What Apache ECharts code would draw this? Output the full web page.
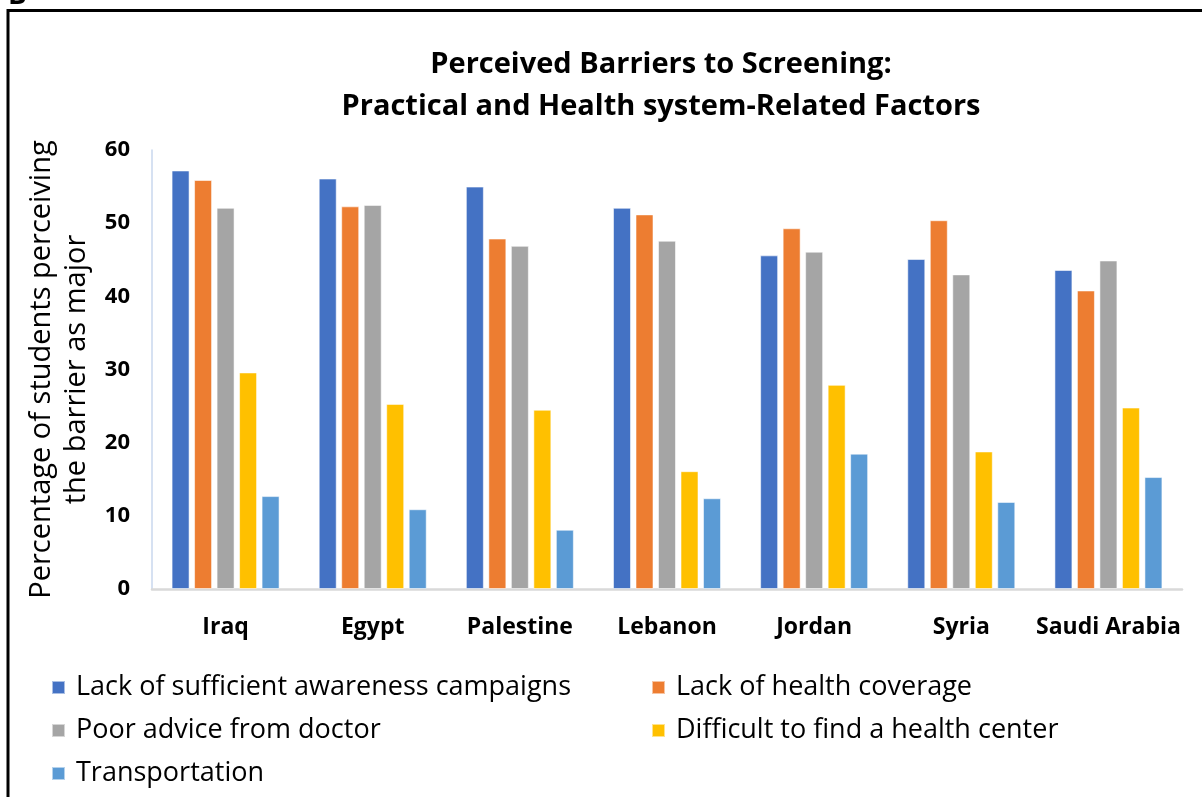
<!DOCTYPE html>
<html>
<head>
<meta charset="utf-8">
<title>Perceived Barriers to Screening</title>
<script src="https://cdn.jsdelivr.net/npm/echarts@6/dist/echarts.min.js"></script>
<style>
  html, body { margin: 0; padding: 0; background: #ffffff; }
  #chart { width: 1202px; height: 797px; }
</style>
</head>
<body>
<div id="chart"></div>
<script>
// Countries on the category axis
const countries = ['Iraq', 'Egypt', 'Palestine', 'Lebanon', 'Jordan', 'Syria', 'Saudi Arabia'];

// Barrier names, one series each
const barrierNames = [
  'Lack of sufficient awareness campaigns',
  'Lack of health coverage',
  'Poor advice from doctor',
  'Difficult to find a health center',
  'Transportation'
];

// Percentage of students perceiving each barrier as major, per country
const awareness      = [57.2, 56.1, 55.0, 52.1, 45.6, 45.1, 43.6];
const coverage       = [55.9, 52.3, 47.9, 51.2, 49.3, 50.4, 40.8];
const doctorAdvice   = [52.1, 52.5, 46.9, 47.6, 46.1, 43.0, 44.9];
const findCenter     = [29.6, 25.3, 24.5, 16.1, 27.9, 18.8, 24.8];
const transportation = [12.7, 10.9,  8.1, 12.4, 18.5, 11.9, 15.3];

// Value axis ticks
const yTicks = [0, 10, 20, 30, 40, 50, 60];

const seriesValues = [awareness, coverage, doctorAdvice, findCenter, transportation];
const seriesColors = ['#4472C4', '#ED7D31', '#A5A5A5', '#FFC000', '#5B9BD5'];

const FONT = '"Open Sans", Lato, sans-serif';

const chart = echarts.init(document.getElementById('chart'), null, { renderer: 'canvas' });

const legendText = {
  fontFamily: FONT,
  fontSize: 27,
  color: '#000000',
  padding: [0, 0, 0, 6]
};

const option = {
  backgroundColor: '#ffffff',
  animation: false,
  color: seriesColors,
  title: {
    text: 'Perceived Barriers to Screening:\nPractical and Health system-Related Factors',
    left: 656,
    top: 39,
    textAlign: 'center',
    textStyle: {
      fontFamily: FONT,
      fontWeight: 'bold',
      fontSize: 29,
      lineHeight: 42,
      color: '#000000'
    }
  },
  legend: [
    {
      data: [barrierNames[0], barrierNames[2], barrierNames[4]],
      orient: 'vertical',
      left: 46,
      top: 669,
      itemWidth: 13,
      itemHeight: 13,
      itemGap: 16,
      icon: 'rect',
      textStyle: legendText
    },
    {
      data: [barrierNames[1], barrierNames[3]],
      orient: 'vertical',
      left: 646,
      top: 669,
      itemWidth: 13,
      itemHeight: 13,
      itemGap: 16,
      icon: 'rect',
      textStyle: legendText
    }
  ],
  grid: {
    left: 152,
    right: 20,
    top: 150,
    bottom: 208,
    outerBoundsMode: 'none'
  },
  xAxis: {
    type: 'category',
    data: countries,
    axisLine: { show: true, lineStyle: { color: '#D9D9D9', width: 2.5 } },
    axisTick: { show: false },
    axisLabel: {
      interval: 0,
      hideOverlap: false,
      fontFamily: FONT,
      fontWeight: 'bold',
      fontSize: 23,
      color: '#000000',
      margin: 27
    }
  },
  yAxis: {
    type: 'value',
    min: yTicks[0],
    max: yTicks[yTicks.length - 1],
    interval: 10,
    name: 'Percentage of students perceiving\nthe barrier as major',
    nameLocation: 'middle',
    nameRotate: 90,
    nameGap: 58,
    nameTextStyle: {
      fontFamily: FONT,
      fontSize: 29,
      lineHeight: 35,
      color: '#000000'
    },
    axisLine: { show: true, lineStyle: { color: '#C9D7EE', width: 1.5 } },
    axisTick: { show: false },
    splitLine: { show: false },
    axisLabel: {
      fontFamily: FONT,
      fontWeight: 'bold',
      fontSize: 22,
      color: '#000000',
      margin: 22
    }
  },
  series: barrierNames.map((name, i) => ({
    name: name,
    type: 'bar',
    data: seriesValues[i],
    barWidth: 18,
    barGap: '25%',
    itemStyle: {
      color: seriesColors[i],
      borderColor: 'rgba(255,255,255,0.55)',
      borderWidth: 1
    }
  })),
  graphic: [
    // panel frame: top and left edges
    {
      type: 'line',
      shape: { x1: 8, y1: 10.5, x2: 1202, y2: 10.5 },
      style: { stroke: '#000000', lineWidth: 3 }
    },
    {
      type: 'line',
      shape: { x1: 8, y1: 9, x2: 8, y2: 797 },
      style: { stroke: '#000000', lineWidth: 3 }
    },
    // panel letter above the frame
    {
      type: 'text',
      x: 8,
      y: 10,
      style: {
        text: 'B',
        fontFamily: FONT,
        fontWeight: 'bold',
        fontSize: 28,
        fill: '#000000',
        textVerticalAlign: 'bottom'
      }
    }
  ]
};

chart.setOption(option);
</script>
</body>
</html>
